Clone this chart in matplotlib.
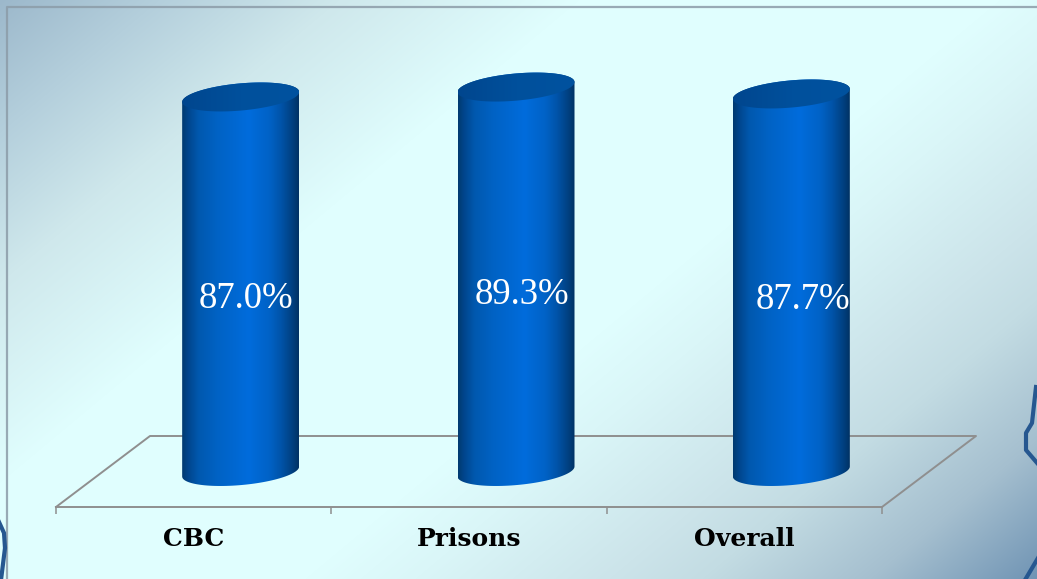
import numpy as np
import matplotlib
matplotlib.use("Agg")
import matplotlib.pyplot as plt
from matplotlib.colors import LinearSegmentedColormap as LSC
from matplotlib.patches import PathPatch
from matplotlib.path import Path

categories = ["CBC", "Prisons", "Overall"]
values = [87.0, 89.3, 87.7]
value_labels = ["87.0%", "89.3%", "87.7%"]

W, H = 1037, 579
fig = plt.figure(figsize=(W / 100, H / 100), dpi=100)

# --- slide background (pixel coordinates) ---
bg = fig.add_axes([0, 0, 1, 1])
bg.set_xlim(0, W); bg.set_ylim(H, 0); bg.axis("off")
xx, yy = np.meshgrid(np.arange(W) + .5, np.arange(H) + .5)
t = xx + 1.2 * yy
stops_t = [0, 160, 340, 580, 1000, 1110, 1304, 1397, 1565, 1732]
stops_c = ["#9cb8cb", "#b4cfdc", "#cfe8ec", "#e0fefe", "#e0fefe", "#daf6f8",
           "#cce4ea", "#c3dce3", "#a5bfcf", "#7094b4"]
rgb = np.stack([np.interp(t, stops_t, [matplotlib.colors.to_rgb(c)[k] for c in stops_c]) for k in range(3)], -1)
bg.imshow(rgb, extent=[0, W, H, 0], aspect="auto", zorder=0)
bg.plot([6.5, 6.5, W], [H, 6.5, 6.5], color="#8c9ca8", lw=1.6, alpha=.85, zorder=1)
for xs, ys in [([1036, 1032, 1026, 1026, 1038], [387, 423, 433, 450, 464]),
               ([1025, 1038], [580, 558]),
               ([-1, 4, 5, 1], [522, 533, 548, 580])]:
    bg.plot(xs, ys, color="#265790", lw=3, zorder=1)

# --- chart ---
ax = fig.add_axes([56 / W, (H - 507) / H, 826 / W, 4.305 * 110 / H])
ax.patch.set_alpha(0)
ax.set_xlim(-.5, 2.5); ax.set_ylim(0, 110)
for s in ["top", "left", "right"]:
    ax.spines[s].set_visible(False)
grey = "#8f8f8f"
ax.spines["bottom"].set_color(grey); ax.spines["bottom"].set_linewidth(1.4)
ax.set_yticks([])
ax.set_xticks([-.5, .5, 1.5, 2.5], [""] * 4)
ax.tick_params(axis="x", which="major", length=5, color=grey, width=1.1)
ax.set_xticks(range(3), categories, minor=True)
ax.tick_params(axis="x", which="minor", length=0, pad=14.5)
for lab in ax.get_xticklabels(minor=True):
    lab.set(family="DejaVu Serif", weight="bold", fontsize=18, color="black")

DX, DY = 94, 71            # depth of the floor, px
to_data = ax.transData.inverted()
def d(px):
    return to_data.transform(px)
a0 = ax.transData.transform((-.5, 0)); a1 = ax.transData.transform((2.5, 0))
pts = d(np.array([a0, a0 + [DX, DY], a1 + [DX, DY], a1]))
ax.plot(pts[:, 0], pts[:, 1], color=grey, lw=1.4, clip_on=False, zorder=1)

side_cm = LSC.from_list("side", [(0, "#003a70"), (.05, "#00458c"), (.14, "#0058ae"),
                                 (.3, "#0062c4"), (.57, "#006cdc"), (.75, "#0062c6"),
                                 (.85, "#0053a8"), (.95, "#003f7e"), (1, "#003264")])
top_cm = LSC.from_list("top", ["#00468e", "#00509c", "#00529f"])
A, B, S = 58.5, 13.6, 5.0  # half width, half minor axis, tilt (px)

def grad(cmap, path, box, z):
    im = ax.imshow(np.linspace(0, 1, 256)[None, :], cmap=cmap, aspect="auto", zorder=z,
                   extent=list(box))
    im.set_clip_path(PathPatch(path, transform=ax.transData))

u = np.linspace(0, 2 * np.pi, 121)
for i, v in enumerate(values):
    cb = ax.transData.transform((i, 0)) + [DX / 2, DY / 2]
    ct = ax.transData.transform((i, v)) + [DX / 2, DY / 2]
    def ell(c, tt):
        return np.c_[c[0] + A * np.cos(tt), c[1] + S * np.cos(tt) + B * np.sin(tt)]
    lower = ell(cb, np.linspace(np.pi, 2 * np.pi, 60))
    upper = ell(ct, np.linspace(0, np.pi, 60))
    body = d(np.vstack([lower, upper]))
    cap = d(ell(ct, u))
    xl = d(np.array([cb[0] - A, cb[1]]))[0]
    xr = d(np.array([cb[0] + A, cb[1]]))[0]
    ymin = body[:, 1].min(); ymax = cap[:, 1].max()
    grad(side_cm, Path(np.vstack([body, body[:1]]), closed=True), (xl, xr, ymin, ymax), 3)
    grad(top_cm, Path(cap, closed=True), (xl, xr, ymin, ymax), 4)

label_offsets = [(52, 21), (53, 20), (59, 18)]
for i, v in enumerate(values):
    ax.annotate(value_labels[i], (i, v / 2), xytext=(label_offsets[i][0] * .72, label_offsets[i][1] * .72),
                textcoords="offset points", ha="center", va="center", color="white",
                family="Liberation Serif", fontsize=26.5, zorder=6, annotation_clip=False)
ax.set_xlim(-.5, 2.5); ax.set_ylim(0, 110)
fig.savefig("out.png", dpi=100)
